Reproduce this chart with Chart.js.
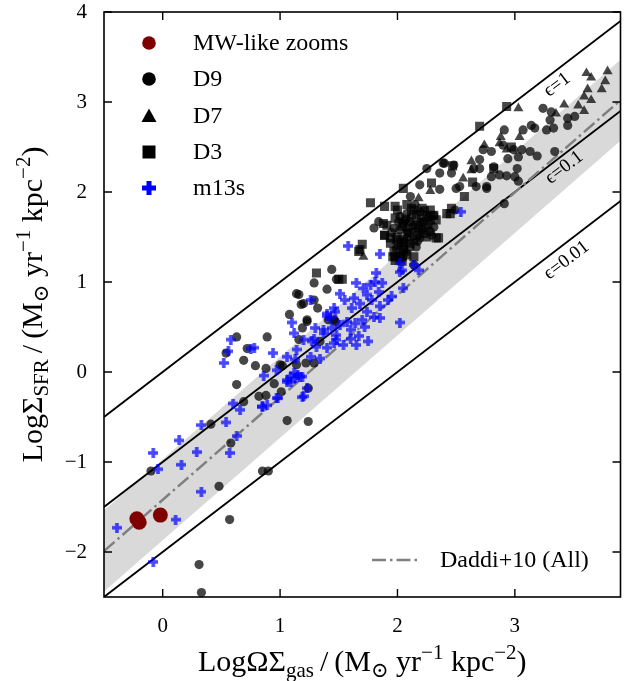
<!DOCTYPE html>
<html><head><meta charset="utf-8">
<script src="https://cdn.jsdelivr.net/npm/chart.js@4.4.1/dist/chart.umd.min.js"></script>
<style>html,body{margin:0;padding:0;background:#fff}canvas{display:block}</style>
</head><body><canvas id="c" width="628" height="681"></canvas>
<script>
// ---------- tick labels ----------
const xTicks = [0, 1, 2, 3];
const yTicks = [-2, -1, 0, 1, 2, 3, 4];

// ---------- reference lines ----------
const lineX   = [-0.5, 3.9];
const eps1Y   = [-0.5, 3.9];
const eps01Y  = [-1.5, 2.9];
const eps001Y = [-2.5, 1.9];
const daddiY  = [-1.99, 3.02];
const bandHiY = [-1.54, 3.47];
const bandLoY = [-2.44, 2.57];
const epsLabels = ['\u03F5=1', '\u03F5=0.1', '\u03F5=0.01'];

// ---------- series ----------
const mwZooms = [[-0.22,-1.63],[-0.20,-1.67],[-0.02,-1.59]];

const d9 = [
 [-0.10,-1.10],[0.33,-2.45],[0.31,-2.14],[0.57,-1.64],[0.48,-1.27],[0.85,-1.10],[0.90,-1.10],
 [0.41,-0.58],[0.58,-0.79],[0.63,-0.14],[0.69,-0.33],[0.82,-0.27],[0.88,-0.26],[0.95,-0.13],
 [1.01,-0.22],[1.06,-0.54],[1.24,-0.55],[1.24,-0.18],[1.22,0.10],[1.00,0.08],[0.79,0.07],
 [0.88,0.04],[0.63,0.39],[0.54,0.21],[0.69,0.13],[0.72,0.26],[0.89,0.39],[1.02,0.07],
 [1.14,0.08],[1.16,0.36],[1.19,0.49],[1.23,0.56],[1.08,0.64],[1.18,0.75],[1.32,0.71],
 [1.40,0.92],[1.29,0.99],[1.14,0.87],[1.16,0.86],[1.44,1.14],[1.48,1.03],[1.46,0.58],
 [1.29,0.80],[1.20,0.76],[1.23,0.58],[1.41,0.58],[1.47,0.56],[1.34,0.34],[1.29,0.10],
 [1.84,1.67],[1.80,1.60],[1.99,1.37],[2.02,1.29],[2.14,1.19],[2.49,1.80],
 [2.25,2.26],[2.36,2.21],[2.40,2.32],[2.19,2.08],[2.36,2.03],[2.11,1.95],
 [2.48,2.30],[2.39,2.32],[2.46,2.21],[2.50,2.04],[2.53,2.06],[2.67,2.06],[2.76,2.06],
 [2.65,2.26],[2.70,2.26],[2.70,2.36],[2.73,2.47],[2.80,2.45],[2.80,2.17],[2.87,2.19],
 [2.93,2.18],[3.02,2.26],[3.00,2.17],[3.03,2.12],[2.90,2.52],[2.99,2.47],[3.06,2.47],
 [3.13,2.45],[3.19,2.40],[3.34,2.45],[2.94,2.37],[3.03,2.39],[2.91,2.69],[3.07,2.69],
 [3.14,2.74],[3.17,2.71],[3.27,2.69],[3.33,2.71],[3.45,2.74],[3.30,2.80],[3.45,2.82],
 [3.51,2.84],[3.24,2.93],[3.31,2.89],[2.82,2.28],[2.91,1.87],[2.76,2.04],
 [2.08,1.76],[2.19,1.78],[2.31,1.74],[2.11,1.67],[2.22,1.67],[2.02,1.58],[2.15,1.56],
 [2.28,1.56],[2.06,1.45],[2.19,1.49],[2.31,1.61],[2.29,1.52],[2.11,1.39],[2.02,1.73],
 [2.15,1.86],[1.97,1.60],[2.16,1.39],
 [2.06,1.68],[2.13,1.62],[2.19,1.66],[2.09,1.55],[2.01,1.67],[2.21,1.58],[2.17,1.45],
 [2.07,1.33],[1.95,1.55],[2.27,1.72]
];

const d7 = [
 [1.71,1.28],[2.28,2.01],[2.18,1.93],[2.56,2.15],[2.63,2.34],[2.63,2.24],[2.74,2.52],
 [2.87,2.54],[2.88,2.61],[2.93,2.47],[3.04,2.61],[3.03,2.93],[3.35,2.87],[3.42,2.97],
 [3.54,2.96],[3.59,2.90],[3.59,3.06],[3.65,3.02],[3.62,3.14],[3.74,3.14],[3.77,3.23],
 [3.79,3.34],[3.65,3.27],[3.61,3.32]
];

const d3 = [
 [1.77,1.88],[1.89,1.84],[1.98,1.84],[1.91,1.63],[1.89,1.52],[1.94,1.49],[1.70,1.42],
 [1.68,1.36],[1.96,1.28],[2.02,1.26],[2.08,1.30],[1.98,1.24],[2.04,1.23],[2.33,1.49],
 [2.29,2.10],[2.05,2.04],[2.47,2.29],[2.64,2.11],[2.57,1.95],[2.82,2.26],[2.97,2.50],
 [2.70,2.73],[2.93,2.95],[1.31,1.10],[1.50,1.03],[1.53,1.03],[1.67,1.34],[2.42,1.76],
 [2.45,1.76],[2.14,1.80],[2.25,1.74],[2.05,1.65],[2.16,1.63],[2.28,1.69],[2.08,1.54],
 [2.22,1.54],[1.99,1.47],[2.14,1.47],[2.25,1.50],[2.33,1.69],[2.05,1.36],[1.98,1.71],
 [2.08,1.86],[2.21,1.82],[2.01,1.41],
 [1.88,1.65],[1.89,1.52],[1.94,1.43],[1.97,1.34],[1.98,1.28],[2.04,1.28],[2.05,1.37],
 [2.05,1.47],[2.14,1.28],[2.35,1.49],[2.46,1.82],[2.28,1.80],[2.31,1.74],[2.00,1.50],
 [2.10,1.50],[2.18,1.60],[2.24,1.60],[2.12,1.72],[2.20,1.70],[2.04,1.62],[2.09,1.60],
 [2.17,1.52],[2.26,1.64],[2.12,1.82],[2.00,1.80],[2.23,1.79],[2.07,1.70],[2.16,1.75],
 [2.03,1.44],[2.10,1.43]
];

const m13s = [
 [-0.39,-1.73],[-0.08,-0.90],[-0.04,-1.08],[0.14,-0.76],[0.16,-1.03],[0.33,-0.59],[0.29,-0.89],
 [0.33,-1.33],[0.11,-1.64],[-0.08,-2.11],[0.54,-0.56],[0.57,-0.90],[0.63,-0.71],[0.60,-0.35],
 [0.66,-0.42],[0.85,-0.39],[0.89,-0.37],[0.98,-0.29],[1.06,-0.11],[1.19,-0.28],
 [0.58,0.36],[0.56,0.23],[0.52,0.10],[0.75,0.26],[0.78,0.27],[0.94,0.21],[0.86,-0.04],
 [0.97,0.02],[0.97,-0.29],[0.85,-0.38],[1.06,-0.09],[1.20,-0.27],[1.12,-0.01],
 [1.09,-0.05],[1.15,-0.03],[1.10,0.55],[1.26,0.80],[1.40,0.62],[1.43,0.60],[1.47,0.67],
 [1.12,0.43],[1.30,0.49],[1.37,0.47],[1.20,0.36],[1.27,0.34],[1.31,0.28],[1.40,0.27],
 [1.48,0.36],[1.14,0.25],[1.06,0.17],[1.13,0.14],[1.26,0.17],[1.34,0.15],[1.13,-0.07],
 [1.19,-0.05],[1.09,-0.11],[1.23,-0.18],[1.17,-0.05],
 [1.85,1.31],[2.02,1.11],[2.14,1.19],[1.82,1.10],[1.81,1.00],[1.77,0.97],[1.87,0.99],
 [1.71,0.93],[1.65,0.99],[1.84,0.89],[1.74,0.86],[1.78,0.80],[1.92,0.80],[1.95,0.84],
 [1.85,0.73],[2.05,0.93],[1.51,0.87],[1.55,0.80],[1.63,0.82],[1.68,0.76],[1.61,0.71],
 [1.74,0.67],[1.80,0.61],[1.85,0.60],[1.70,0.58],[1.64,0.54],[1.57,0.56],[1.51,0.52],
 [1.44,0.49],[1.40,0.65],[1.46,0.71],[1.37,0.43],[1.48,0.41],[1.60,0.47],[1.60,0.37],
 [1.67,0.40],[1.72,0.50],[1.54,0.30],[1.65,0.30],[1.75,0.34],[1.46,0.32],[1.29,0.37],
 [2.02,0.55],[1.58,1.40],[2.02,1.21],[2.04,1.13],[2.18,1.13],[2.54,1.78]
];

// ---------- rendering ----------
const SERIF = '"Liberation Serif","DejaVu Serif",serif';
const GREY = 'rgba(0,0,0,0.72)';
const BLUEA = 'rgba(0,0,255,0.72)';

function plusImage(size, arm, color){
  const c = document.createElement('canvas');
  c.width = size; c.height = size;
  const g = c.getContext('2d');
  g.fillStyle = color;
  const o = (size - arm) / 2;
  g.beginPath();
  g.rect(o, 0, arm, size);
  g.rect(0, o, o, arm);
  g.rect(o + arm, o, size - o - arm, arm);
  g.fill();
  return c;
}
const plusImg = plusImage(10, 3.6, BLUEA);

const toXY = arr => arr.map(p => ({x: p[0], y: p[1]}));
const lineData = ys => lineX.map((x, i) => ({x, y: ys[i]}));

function drawRich(ctx, parts, x, y, align) {
  const big = 30, small = 21;
  let w = 0;
  parts.forEach(p => { ctx.font = (p[1] ? small : big) + 'px ' + SERIF; w += ctx.measureText(p[0]).width; });
  let cx = align === 'center' ? x - w / 2 : x;
  parts.forEach(p => {
    ctx.font = (p[1] ? small : big) + 'px ' + SERIF;
    const dy = p[1] === 'sub' ? 6 : p[1] === 'sup' ? -12 : 0;
    ctx.fillText(p[0], cx, y + dy);
    cx += ctx.measureText(p[0]).width;
  });
}

const deco = {
  id: 'deco',
  afterDraw(chart) {
    const {ctx, chartArea: a, scales: {x, y}} = chart;
    ctx.save();
    // frame
    ctx.strokeStyle = '#000';
    ctx.lineWidth = 1.6;
    ctx.strokeRect(a.left, a.top, a.right - a.left, a.bottom - a.top);
    // inward ticks, all sides
    ctx.lineWidth = 1.4;
    ctx.beginPath();
    const L = 8;
    xTicks.forEach(v => {
      const p = x.getPixelForValue(v);
      ctx.moveTo(p, a.bottom); ctx.lineTo(p, a.bottom - L);
      ctx.moveTo(p, a.top); ctx.lineTo(p, a.top + L);
    });
    yTicks.forEach(v => {
      const p = y.getPixelForValue(v);
      ctx.moveTo(a.left, p); ctx.lineTo(a.left + L, p);
      ctx.moveTo(a.right, p); ctx.lineTo(a.right - L, p);
    });
    ctx.stroke();

    // epsilon labels, rotated along the lines
    const ang = Math.atan2(y.getPixelForValue(1) - y.getPixelForValue(0), x.getPixelForValue(1) - x.getPixelForValue(0));
    const labelPos = [[3.36, 3.19], [3.42, 2.27], [3.44, 1.24]];
    ctx.fillStyle = '#000';
    ctx.font = '19px ' + SERIF;
    ctx.textAlign = 'center';
    ctx.textBaseline = 'middle';
    epsLabels.forEach((t, i) => {
      ctx.save();
      ctx.translate(x.getPixelForValue(labelPos[i][0]), y.getPixelForValue(labelPos[i][1]));
      ctx.rotate(ang);
      ctx.fillText(t, 0, 0);
      ctx.restore();
    });

    // legend (upper left)
    const lx = 149, tx = 193, rows = [43, 79, 116, 152, 188];
    const names = ['MW-like zooms', 'D9', 'D7', 'D3', 'm13s'];
    ctx.font = '24px ' + SERIF;
    ctx.textAlign = 'left';
    names.forEach((n, i) => {
      const cy = rows[i];
      ctx.fillStyle = '#000';
      ctx.beginPath();
      if (i === 0) { ctx.fillStyle = '#800000'; ctx.arc(lx, cy, 6.8, 0, Math.PI * 2); ctx.fill(); }
      else if (i === 1) { ctx.arc(lx, cy, 6.8, 0, Math.PI * 2); ctx.fill(); }
      else if (i === 2) { ctx.moveTo(lx, cy - 7.5); ctx.lineTo(lx + 7.5, cy + 6); ctx.lineTo(lx - 7.5, cy + 6); ctx.closePath(); ctx.fill(); }
      else if (i === 3) { ctx.fillRect(lx - 6.5, cy - 6.5, 13, 13); }
      else { ctx.fillStyle = '#0000ff'; ctx.fillRect(lx - 2.5, cy - 7, 5, 14); ctx.fillRect(lx - 7, cy - 2.5, 14, 5); }
      ctx.fillStyle = '#000';
      ctx.fillText(n, tx, cy + 1);
    });

    // legend (lower right): Daddi+10
    const dy = 560;
    ctx.strokeStyle = '#808080';
    ctx.lineWidth = 2.5;
    ctx.setLineDash([14, 4, 2.5, 4]);
    ctx.beginPath(); ctx.moveTo(372, dy); ctx.lineTo(420, dy); ctx.stroke();
    ctx.setLineDash([]);
    ctx.fillStyle = '#000';
    ctx.fillText('Daddi+10 (All)', 440, dy + 1);

    // axis titles
    ctx.textBaseline = 'alphabetic';
    ctx.textAlign = 'left';
    const unit = [['\u2009/\u2009(M'], ['\u2299', 'sub'], [' yr'], ['\u22121', 'sup'], [' kpc'], ['\u22122', 'sup'], [')']];
    drawRich(ctx, [['Log\u03A9\u03A3'], ['gas', 'sub']].concat(unit), (a.left + a.right) / 2, 671, 'center');
    ctx.save();
    ctx.translate(42, (a.top + a.bottom) / 2);
    ctx.rotate(-Math.PI / 2);
    drawRich(ctx, [['Log\u03A3'], ['SFR', 'sub']].concat(unit), 0, 0, 'center');
    ctx.restore();
    ctx.restore();
  }
};

const lineDs = (ys, color, width, dash, order) => ({
  data: lineData(ys), showLine: true, pointRadius: 0, borderColor: color,
  borderWidth: width, borderDash: dash, fill: false, order
});

new Chart(document.getElementById('c'), {
  type: 'scatter',
  data: {
    datasets: [
      {data: lineData(bandHiY), showLine: true, pointRadius: 0, borderWidth: 0, borderColor: 'rgba(0,0,0,0)',
       backgroundColor: '#d9d9d9', fill: '+1', order: 20},
      {data: lineData(bandLoY), showLine: true, pointRadius: 0, borderWidth: 0, borderColor: 'rgba(0,0,0,0)', fill: false, order: 19},
      lineDs(eps1Y, '#000', 1.8, [], 15),
      lineDs(eps01Y, '#000', 1.8, [], 14),
      lineDs(eps001Y, '#000', 1.8, [], 13),
      lineDs(daddiY, '#808080', 2.5, [14, 4, 2.5, 4], 12),
      {label: 'D9', data: toXY(d9), pointStyle: 'circle', pointRadius: 4.6, backgroundColor: GREY, borderWidth: 0, order: 6},
      {label: 'D7', data: toXY(d7), pointStyle: 'triangle', pointRadius: 5.8, backgroundColor: GREY, borderWidth: 0, order: 5},
      {label: 'D3', data: toXY(d3), pointStyle: 'rect', pointRadius: 6.4, backgroundColor: GREY, borderWidth: 0, order: 4},
      {label: 'm13s', data: toXY(m13s), pointStyle: plusImg, pointRadius: 5, order: 3},
      {label: 'MW-like zooms', data: toXY(mwZooms), pointStyle: 'circle', pointRadius: 7.5, backgroundColor: '#800000', borderWidth: 0, order: 1}
    ]
  },
  options: {
    responsive: false,
    animation: false,
    events: [],
    layout: {padding: {left: 0, right: 7, top: 12, bottom: 0}},
    plugins: {legend: {display: false}, tooltip: {enabled: false}},
    scales: {
      x: {
        type: 'linear', min: -0.5, max: 3.9,
        afterBuildTicks: s => { s.ticks = xTicks.map(v => ({value: v})); },
        afterFit: s => { s.height = 84; s.paddingLeft = 0; s.paddingRight = 0; },
        grid: {display: false, drawTicks: false},
        border: {display: false},
        ticks: {color: '#000', padding: 17, font: {family: SERIF, size: 21},
                callback: v => (v < 0 ? '\u2212' + Math.abs(v) : String(v))}
      },
      y: {
        type: 'linear', min: -2.5, max: 4,
        afterBuildTicks: s => { s.ticks = yTicks.map(v => ({value: v})); },
        afterFit: s => { s.width = 104; s.paddingTop = 0; s.paddingBottom = 0; },
        grid: {display: false, drawTicks: false},
        border: {display: false},
        ticks: {color: '#000', padding: 17, font: {family: SERIF, size: 21},
                callback: v => (v < 0 ? '\u2212' + Math.abs(v) : String(v))}
      }
    }
  },
  plugins: [deco]
});
</script>
</body></html>
